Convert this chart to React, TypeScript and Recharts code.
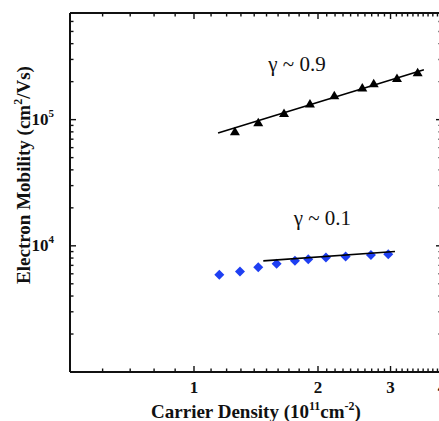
import { ScatterChart, Scatter, XAxis, YAxis, ReferenceDot, Label } from 'recharts'

// carrier density in 1e11 cm^-2, mobility in cm^2/Vs
const triDensity = [1.257, 1.432, 1.654, 1.912, 2.191, 2.562, 2.731, 3.11, 3.491]
const triMobility = [80800, 95200, 113000, 134000, 156000, 179500, 194000, 214000, 237000]
const diaDensity = [1.152, 1.293, 1.432, 1.587, 1.758, 1.894, 2.091, 2.334, 2.689, 2.962]
const diaMobility = [5890, 6250, 6775, 7200, 7600, 7840, 8080, 8225, 8440, 8590]

// power-law fits (end points)
const triFitDensity = [1.144, 3.615]
const triFitMobility = [78400, 249000]
const diaFitDensity = [1.473, 3.075]
const diaFitMobility = [7600, 9010]

const xTicks = [
  0.5, 0.6, 0.7, 0.8, 0.9, 1, 1.1, 1.2, 1.3, 1.4, 1.5, 1.6, 1.7, 1.8, 1.9,
  2, 2.1, 2.2, 2.3, 2.4, 2.5, 2.6, 2.7, 2.8, 2.9, 3, 3.1, 3.2, 3.3, 3.4,
  3.5, 3.6, 3.7, 3.8, 3.9, 4,
]
const xLabels = [1, 2, 3, 4]
const yTicks = [
  1000, 2000, 3000, 4000, 5000, 6000, 7000, 8000, 9000,
  10000, 20000, 30000, 40000, 50000, 60000, 70000, 80000, 90000,
  100000, 200000, 300000, 400000, 500000, 600000, 700000,
]
const yLabels = [10000, 100000]
const yLabelExp: Record<number, string> = { 10000: '4', 100000: '5' }

const FONT = '"Liberation Serif", "Times New Roman", serif'
const INK = '#111'
// tickSize on the axes; the tick props sit this far outside the axis line
const OFF = 8

const zip = (xs: number[], ys: number[]) => xs.map((x, i) => ({ x, y: ys[i] }))
const triData = zip(triDensity, triMobility)
const diaData = zip(diaDensity, diaMobility)
const triFit = zip(triFitDensity, triFitMobility)
const diaFit = zip(diaFitDensity, diaFitMobility)

const isMajorY = (v: number) => v === 1000 || v === 10000 || v === 100000
const MAJ = 6
const MIN = 3.5

// ticks point inward on every side of the frame
const BottomTick = (p: any) => {
  const v = p.payload.value
  const y0 = p.y - OFF
  return (
    <g>
      <path d={`M${p.x},${y0}V${y0 - (Number.isInteger(v) ? MAJ : MIN)}`} stroke={INK} strokeWidth={1.4} fill="none" />
      {xLabels.includes(v) && (
        <text x={p.x} y={y0 + 21} textAnchor="middle" fontFamily={FONT} fontWeight="bold" fontSize={17} fill={INK}>
          {v}
        </text>
      )}
    </g>
  )
}

const TopTick = (p: any) => {
  const y0 = p.y + OFF
  const major = Number.isInteger(p.payload.value)
  return <path d={`M${p.x},${y0}V${y0 + (major ? MAJ : MIN)}`} stroke={INK} strokeWidth={1.4} fill="none" />
}

const LeftTick = (p: any) => {
  const v = p.payload.value
  const x0 = p.x + OFF
  return (
    <g>
      <path d={`M${x0},${p.y}H${x0 + (isMajorY(v) ? MAJ : MIN)}`} stroke={INK} strokeWidth={1.4} fill="none" />
      {yLabels.includes(v) && (
        <text x={x0 - 16} y={p.y + 5} textAnchor="end" fontFamily={FONT} fontWeight="bold" fontSize={17} fill={INK}>
          10
          <tspan dy={-8} fontSize={11}>{yLabelExp[v]}</tspan>
        </text>
      )}
    </g>
  )
}

const RightTick = (p: any) => {
  const x0 = p.x - OFF
  return <path d={`M${x0},${p.y}H${x0 - (isMajorY(p.payload.value) ? MAJ : MIN)}`} stroke={INK} strokeWidth={1.4} fill="none" />
}

const Triangle = (p: any) => (
  <polygon points={`${p.cx - 5},${p.cy + 4} ${p.cx + 5},${p.cy + 4} ${p.cx},${p.cy - 4.5}`} fill="#000" />
)
const Diamond = (p: any) => (
  <polygon points={`${p.cx},${p.cy - 5} ${p.cx + 5},${p.cy} ${p.cx},${p.cy + 5} ${p.cx - 5},${p.cy}`} fill="#1e3ff2" />
)
const NoMark = () => <g />

const XTitle = ({ viewBox }: any) => (
  <text x={viewBox.x + viewBox.width / 2} y={viewBox.y + 46} textAnchor="middle" fontFamily={FONT} fontWeight="bold" fontSize={19} fill={INK}>
    Carrier Density (10
    <tspan dy={-8} fontSize={12}>11</tspan>
    <tspan dy={8}>cm</tspan>
    <tspan dy={-8} fontSize={12}>-2</tspan>
    <tspan dy={8}>)</tspan>
  </text>
)

const YTitle = ({ viewBox }: any) => {
  const x = viewBox.x + 30
  const y = 175
  return (
    <text x={x} y={y} transform={`rotate(-90 ${x} ${y})`} textAnchor="middle" fontFamily={FONT} fontWeight="bold" fontSize={19} fill={INK}>
      Electron Mobility (cm
      <tspan dy={-8} fontSize={12}>2</tspan>
      <tspan dy={8}>/Vs)</tspan>
    </text>
  )
}

const Gamma = ({ viewBox, value }: any) => (
  <text x={viewBox.x} y={viewBox.y + 6} textAnchor="middle" fontFamily={FONT} fontSize={21} fill={INK}>
    {value}
  </text>
)

const axisLine = { stroke: INK, strokeWidth: 2 }

export default function App() {
  return (
    <div style={{ position: 'absolute', left: 0, top: 0, width: 439, height: 421, overflow: 'hidden', background: '#fff' }}>
      <ScatterChart width={462} height={421} margin={{ top: 0, right: 0, bottom: 0, left: 0 }}>
        <XAxis
          xAxisId="b" dataKey="x" type="number" scale="log" domain={[0.5, 4]} allowDataOverflow
          ticks={xTicks} interval={0} tickSize={OFF} tickMargin={0} tick={<BottomTick />}
          height={49} axisLine={axisLine} tickLine={false}
        >
          <Label content={<XTitle />} />
        </XAxis>
        <XAxis
          xAxisId="t" orientation="top" dataKey="x" type="number" scale="log" domain={[0.5, 4]} allowDataOverflow
          ticks={xTicks} interval={0} tickSize={OFF} tickMargin={0} tick={<TopTick />}
          height={13} axisLine={axisLine} tickLine={false}
        />
        <YAxis
          yAxisId="l" dataKey="y" type="number" scale="log" domain={[1000, 700000]} allowDataOverflow
          ticks={yTicks} interval={0} tickSize={OFF} tickMargin={0} tick={<LeftTick />}
          width={70} axisLine={axisLine} tickLine={false}
        >
          <Label content={<YTitle />} />
        </YAxis>
        <YAxis
          yAxisId="r" orientation="right" dataKey="y" type="number" scale="log" domain={[1000, 700000]} allowDataOverflow
          ticks={yTicks} interval={0} tickSize={OFF} tickMargin={0} tick={<RightTick />}
          width={20} axisLine={axisLine} tickLine={false}
        />

        <Scatter xAxisId="b" yAxisId="l" data={triData} shape={Triangle} isAnimationActive={false} />
        <Scatter xAxisId="b" yAxisId="l" data={triFit} shape={NoMark} line={{ stroke: '#000', strokeWidth: 1.6 }} isAnimationActive={false} />
        <Scatter xAxisId="b" yAxisId="l" data={diaData} shape={Diamond} isAnimationActive={false} />
        <Scatter xAxisId="b" yAxisId="l" data={diaFit} shape={NoMark} line={{ stroke: '#000', strokeWidth: 1.6 }} isAnimationActive={false} />
        {/* also bind the mirror axes so they get a domain */}
        <Scatter xAxisId="t" yAxisId="r" data={triData} shape={NoMark} isAnimationActive={false} />

        <ReferenceDot xAxisId="b" yAxisId="l" x={1.778} y={273000} r={0} stroke="none" label={<Gamma value="γ ~ 0.9" />} />
        <ReferenceDot xAxisId="b" yAxisId="l" x={2.05} y={16400} r={0} stroke="none" label={<Gamma value="γ ~ 0.1" />} />
      </ScatterChart>
    </div>
  )
}
